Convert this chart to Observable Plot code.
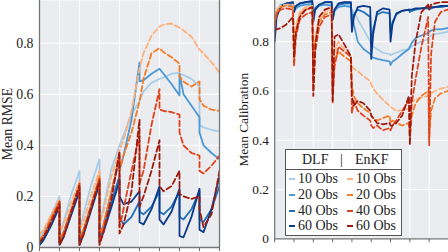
<!DOCTYPE html>
<html><head><meta charset="utf-8">
<script src="https://cdn.jsdelivr.net/npm/d3@7"></script>
<script src="https://cdn.jsdelivr.net/npm/@observablehq/plot@0.6"></script>
<style>
html,body{margin:0;padding:0;width:448px;height:252px;overflow:hidden;background:#fff;}
#wrap{position:relative;width:448px;height:252px;overflow:hidden;font-family:"Liberation Serif",serif;}
#left{position:absolute;left:0;top:0;}
#right{position:absolute;left:224px;top:0;}
#legend{position:absolute;left:285px;top:149px;width:115px;height:85px;background:#fff;border:1.5px solid #555;color:#222;font-size:14px;}
#legend span{position:absolute;white-space:nowrap;line-height:14px;}
#legend .mk{height:2px;width:6px;}
#legend .hr{position:absolute;left:0;right:0;top:19px;height:1.3px;background:#555;}
</style></head><body>
<div id="wrap"><div id="left"></div><div id="right"></div><div id="legend"></div></div>
<script>
// ---------- data ----------
const obsLabels = ["10 Obs", "20 Obs", "40 Obs", "60 Obs"];
const methods = ["DLF", "EnKF"];
const dlfColors = ["#a6cee8", "#4a98d4", "#1f6fba", "#0a3a8a"];
const enkfColors = ["#fdb07a", "#f57a25", "#e0401a", "#9e1a0c"];
const xTicks = [0, 1, 2, 3, 4, 5, 6, 7, 8, 9];
const yTicks = [0, 0.2, 0.4, 0.6, 0.8];
const yTickLabels = ["0", "0.2", "0.4", "0.6", "0.8"];

const rmseT = [0,0.2,0.6,1, 1,1.2,1.6,2, 2,2.2,2.6,3, 3,3.2,3.6,4, 4,4.2,4.6,5, 5,5.2,5.6,6, 6,6.2,6.6,7, 7,7.2,7.6,8, 8,8.2,8.6,9];
const rmseDLF10 = [0.03,0.06,0.13,0.20, 0.05,0.10,0.21,0.30, 0.07,0.13,0.25,0.345, 0.09,0.16,0.31,0.40, 0.40,0.44,0.52,0.575, 0.575,0.61,0.645,0.66, 0.66,0.665,0.68,0.685, 0.68,0.675,0.66,0.63, 0.48,0.47,0.46,0.455];
const rmseDLF20 = [0.02,0.04,0.11,0.18, 0.03,0.06,0.15,0.24, 0.03,0.07,0.17,0.27, 0.05,0.09,0.22,0.34, 0.30,0.36,0.50,0.725, 0.65,0.655,0.68,0.70, 0.70,0.68,0.64,0.595, 0.68,0.60,0.555,0.51, 0.45,0.40,0.37,0.345];
const rmseDLF40 = [0.01,0.03,0.09,0.17, 0.02,0.05,0.14,0.23, 0.02,0.06,0.16,0.26, 0.03,0.07,0.18,0.28, 0.12,0.09,0.12,0.18, 0.14,0.13,0.16,0.22, 0.14,0.13,0.16,0.22, 0.12,0.11,0.15,0.22, 0.11,0.10,0.15,0.24];
const rmseDLF60 = [0.01,0.03,0.09,0.16, 0.01,0.04,0.13,0.22, 0.01,0.05,0.15,0.25, 0.02,0.06,0.16,0.26, 0.20,0.17,0.18,0.22, 0.10,0.09,0.15,0.24, 0.11,0.09,0.14,0.23, 0.045,0.04,0.12,0.23, 0.07,0.06,0.15,0.28];
const rmseEnKF10 = [0.05,0.07,0.13,0.19, 0.06,0.09,0.18,0.26, 0.07,0.10,0.21,0.30, 0.09,0.14,0.28,0.38, 0.38,0.42,0.535,0.70, 0.70,0.76,0.83,0.865, 0.865,0.872,0.877,0.86, 0.86,0.85,0.825,0.775, 0.775,0.76,0.725,0.685];
const rmseEnKF20 = [0.03,0.05,0.12,0.18, 0.03,0.06,0.15,0.24, 0.04,0.07,0.17,0.28, 0.05,0.09,0.22,0.36, 0.30,0.36,0.45,0.57, 0.57,0.66,0.76,0.78, 0.78,0.765,0.745,0.72, 0.67,0.65,0.63,0.65, 0.58,0.555,0.54,0.535];
const rmseEnKF40 = [0.02,0.04,0.11,0.18, 0.02,0.05,0.15,0.25, 0.02,0.06,0.17,0.27, 0.02,0.07,0.20,0.37, 0.08,0.15,0.30,0.44, 0.25,0.30,0.48,0.62, 0.54,0.535,0.53,0.52, 0.45,0.40,0.37,0.36, 0.30,0.29,0.32,0.36];
const rmseEnKF60 = [0.02,0.04,0.10,0.17, 0.01,0.04,0.14,0.24, 0.01,0.05,0.16,0.26, 0.01,0.06,0.19,0.375, 0.055,0.09,0.22,0.50, 0.16,0.20,0.30,0.42, 0.24,0.22,0.24,0.30, 0.21,0.20,0.19,0.20, 0.15,0.08,0.13,0.30];

const calT = [0,0.1,0.3,0.6,0.95, 1,1.1,1.3,1.6,1.95, 2,2.1,2.3,2.6,2.95, 3,3.1,3.3,3.6,3.95, 4,4.1,4.3,4.6,4.95, 5,5.1,5.3,5.6,5.95, 6,6.1,6.3,6.6,6.95, 7,7.1,7.3,7.6,7.95, 8,8.1,8.3,8.6,8.95, 9];
const calDLF10 = [0.86,0.92,0.95,0.955,0.95, 0.93,0.94,0.95,0.955,0.955, 0.92,0.94,0.95,0.955,0.95, 0.90,0.93,0.945,0.95,0.945, 0.93,0.92,0.89,0.85,0.80, 0.79,0.78,0.77,0.755,0.75, 0.745,0.75,0.755,0.765,0.77, 0.775,0.78,0.79,0.80,0.81, 0.82,0.825,0.83,0.835,0.84, 0.845];
const calDLF20 = [0.84,0.91,0.94,0.95,0.945, 0.92,0.935,0.945,0.95,0.95, 0.90,0.93,0.945,0.95,0.945, 0.89,0.925,0.94,0.945,0.94, 0.91,0.87,0.80,0.77,0.75, 0.74,0.735,0.73,0.725,0.72, 0.705,0.72,0.73,0.75,0.77, 0.78,0.795,0.815,0.825,0.835, 0.84,0.845,0.85,0.85,0.855, 0.855];
const calDLF40 = [0.83,0.91,0.945,0.955,0.955, 0.93,0.945,0.955,0.96,0.96, 0.90,0.935,0.95,0.96,0.96, 0.89,0.93,0.95,0.955,0.955, 0.86,0.91,0.93,0.92,0.90, 0.79,0.85,0.91,0.92,0.915, 0.84,0.88,0.91,0.925,0.93, 0.92,0.925,0.93,0.935,0.935, 0.93,0.935,0.94,0.94,0.945, 0.945];
const calDLF60 = [0.80,0.90,0.94,0.955,0.96, 0.92,0.945,0.955,0.96,0.965, 0.88,0.93,0.95,0.96,0.96, 0.89,0.93,0.955,0.96,0.96, 0.84,0.90,0.94,0.945,0.94, 0.73,0.83,0.92,0.935,0.93, 0.80,0.87,0.915,0.925,0.93, 0.93,0.93,0.935,0.935,0.94, 0.935,0.94,0.94,0.945,0.945, 0.945];
const calEnKF10 = [0.90,0.93,0.945,0.95,0.95, 0.78,0.86,0.92,0.94,0.945, 0.72,0.82,0.89,0.92,0.93, 0.68,0.76,0.80,0.77,0.73, 0.70,0.69,0.68,0.66,0.64, 0.625,0.61,0.59,0.565,0.54, 0.535,0.53,0.52,0.52,0.53, 0.55,0.555,0.565,0.575,0.58, 0.585,0.59,0.60,0.61,0.615, 0.62];
const calEnKF20 = [0.88,0.92,0.94,0.945,0.94, 0.72,0.84,0.91,0.93,0.935, 0.65,0.80,0.88,0.91,0.92, 0.60,0.72,0.76,0.74,0.72, 0.62,0.58,0.55,0.53,0.51, 0.50,0.49,0.48,0.49,0.50, 0.47,0.48,0.47,0.46,0.47, 0.42,0.50,0.55,0.58,0.60, 0.41,0.52,0.57,0.59,0.60, 0.60];
const calEnKF40 = [0.86,0.91,0.93,0.935,0.93, 0.70,0.82,0.89,0.91,0.92, 0.60,0.76,0.86,0.90,0.91, 0.55,0.70,0.78,0.76,0.74, 0.51,0.56,0.52,0.50,0.48, 0.46,0.45,0.46,0.44,0.45, 0.44,0.46,0.48,0.52,0.56, 0.40,0.55,0.65,0.78,0.90, 0.38,0.75,0.88,0.92,0.93, 0.93];
const calEnKF60 = [0.85,0.85,0.855,0.87,0.90, 0.74,0.84,0.90,0.93,0.94, 0.58,0.78,0.90,0.93,0.94, 0.56,0.82,0.83,0.79,0.74, 0.58,0.54,0.56,0.55,0.52, 0.50,0.49,0.47,0.465,0.47, 0.46,0.46,0.47,0.50,0.58, 0.38,0.66,0.80,0.92,0.95, 0.93,0.95,0.955,0.96,0.96, 0.96];

// ---------- build ----------
function rows(t, list, method) {
  const out = [];
  list.forEach((vals, i) => vals.forEach((v, j) => out.push({t: t[j], v, key: method + " " + obsLabels[i], method})));
  return out;
}
const keys = [...obsLabels.map(o => "DLF " + o), ...obsLabels.map(o => "EnKF " + o)];
const colors = [...dlfColors, ...enkfColors];

function panel(t, dlf, enkf, label, width, mLeft, mRight, rightEdge) {
  const d1 = rows(t, dlf, "DLF"), d2 = rows(t, enkf, "EnKF");
  return Plot.plot({
    width, height: 252, marginLeft: mLeft, marginRight: mRight, marginTop: 0, marginBottom: 5,
    x: {domain: [0, 9]},
    y: {domain: [0, 0.967]},
    color: {domain: keys, range: colors},
    style: {fontFamily: "Liberation Serif, serif", fontSize: "13.5px", background: "transparent", color: "#222"},
    marks: [
      Plot.frame({fill: "#ebecef", stroke: null}),
      Plot.gridX(xTicks, {stroke: "#fff", strokeOpacity: 1, strokeWidth: 1}),
      Plot.gridY(yTicks.slice(1), {stroke: "#fff", strokeOpacity: 1, strokeWidth: 1}),
      Plot.line(d1, {x: "t", y: "v", z: "key", stroke: "key", strokeWidth: 1.8, clip: true}),
      Plot.line(d2, {x: "t", y: "v", z: "key", stroke: "key", strokeWidth: 1.8, strokeDasharray: "5.5,3", clip: true}),
      Plot.axisY(yTicks, {tickSize: 0, tickPadding: 6, fontSize: 13.8, tickFormat: d => yTickLabels[yTicks.indexOf(d)],
        label, labelAnchor: "center", labelOffset: 37, labelArrow: "none"}),
      Plot.axisX(xTicks, {tickSize: 4, tickFormat: () => "", label: null, stroke: "#666"}),
      Plot.ruleX(rightEdge ? [0, 9] : [0], {stroke: "#777", strokeWidth: 1.3}),
      Plot.ruleY([0], {stroke: "#777", strokeWidth: 1.3})
    ]
  });
}

document.getElementById("left").append(
  panel(rmseT, [rmseDLF10, rmseDLF20, rmseDLF40, rmseDLF60], [rmseEnKF10, rmseEnKF20, rmseEnKF40, rmseEnKF60],
        "Mean RMSE", 224, 39, 5, true));
document.getElementById("right").append(
  panel(calT, [calDLF10, calDLF20, calDLF40, calDLF60], [calEnKF10, calEnKF20, calEnKF40, calEnKF60],
        "Mean Calibration", 232, 52, 0, false));

// ---------- legend ----------
const lg = document.getElementById("legend");
function span(text, left, top, extra) {
  const s = document.createElement("span");
  s.textContent = text; s.style.left = left + "px"; s.style.top = top + "px";
  if (extra) Object.assign(s.style, extra);
  lg.append(s); return s;
}
span(methods[0], 16, 3);
span("|", 54, 3);
span(methods[1], 69, 3);
const hr = document.createElement("div"); hr.className = "hr"; lg.append(hr);
obsLabels.forEach((o, i) => {
  const top = 22 + i * 15.8;
  const m1 = span("", 3, top + 6); m1.className = "mk"; m1.style.background = dlfColors[i];
  span(o, 12, top);
  const m2 = span("", 61, top + 6); m2.className = "mk"; m2.style.background = enkfColors[i];
  span(o, 70, top);
});
</script>
</body></html>
